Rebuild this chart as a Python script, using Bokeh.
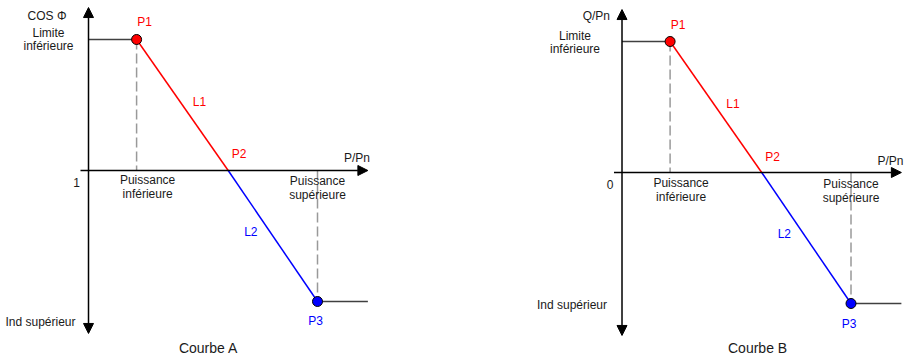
from bokeh.plotting import figure
from bokeh.layouts import row
from bokeh.models import Arrow, NormalHead
from bokeh.embed import file_html
from bokeh.resources import INLINE
from bokeh.core.properties import value

# ---------------- data ----------------
point_names = ["P1", "P2", "P3"]
segment_names = ["L1", "L2"]
p_pn = [0.21, 0.61, 1.0]            # P/Pn of P1, P2, P3
curve_a = [1.0, 0.0, -1.0]          # COS Φ (normalised): limite inférieure, 1, ind supérieur
curve_b = [1.0, 0.0, -1.0]          # Q/Pn (normalised): limite inférieure, 0, ind supérieur
titles = ["Courbe A", "Courbe B"]
y_axis_names = ["COS Φ", "Q/Pn"]
origin_labels = ["1", "0"]
x_axis_name = "P/Pn"
upper_label = "Limite\ninférieure"
lower_label = "Ind supérieur"
power_labels = ["Puissance\ninférieure", "Puissance\nsupérieure"]
axis_x_end = 1.22
axis_y_extent = 1.244

FONT = value("Liberation Sans")
RED = "#ff0000"
BLUE = "#0000ff"
TXT = "#1a1a1a"

panels = [
    dict(ys=curve_a, title=titles[0], yname=y_axis_names[0], origin=origin_labels[0],
         xr=(-0.3843, 1.5895), yr=(-1.4275, 1.2977),
         yname_off=(-22, 8), limit_off=-40, ind_off=(-13, 21), title_x=0.524),
    dict(ys=curve_b, title=titles[1], yname=y_axis_names[1], origin=origin_labels[1],
         xr=(-0.7402, 1.2336), yr=(-1.4122, 1.3130),
         yname_off=(-12, 6), limit_off=-47, ind_off=(-15, 1), title_x=0.592),
]


def txt(p, x, y, t, color=TXT, size="12px", align="center", baseline="middle", xo=0, yo=0):
    p.text(x=[x], y=[y], text=[t], text_color=color, text_font=FONT,
           text_font_size=size, text_align=align, text_baseline=baseline,
           x_offset=xo, y_offset=yo)


def make_panel(cfg):
    ys = cfg["ys"]
    p = figure(width=452, height=357, x_range=cfg["xr"], y_range=cfg["yr"],
               x_axis_type=None, y_axis_type=None, toolbar_location=None,
               output_backend="svg", min_border=0, outline_line_color=None,
               background_fill_color="white", border_fill_color="white")
    p.grid.visible = False

    # axes with arrows
    p.add_layout(Arrow(x_start=0, y_start=-axis_y_extent, x_end=0, y_end=axis_y_extent,
                       start=NormalHead(size=10, fill_color="black", line_color="black", line_width=1),
                       end=NormalHead(size=10, fill_color="black", line_color="black", line_width=1),
                       line_color="black", line_width=1.5))
    p.add_layout(Arrow(x_start=-0.035, y_start=0, x_end=axis_x_end, y_end=0,
                       end=NormalHead(size=10, fill_color="black", line_color="black", line_width=1),
                       line_color="black", line_width=1.5))

    # dashed guides
    p.line([p_pn[0], p_pn[0]], [ys[0], 0], line_color="#999999", line_width=1.5, line_dash="10 4")
    p.line([p_pn[2], p_pn[2]], [0, ys[2]], line_color="#999999", line_width=1.5, line_dash="10 4")

    # flat parts
    p.line([0, p_pn[0]], [ys[0], ys[0]], line_color="#404040", line_width=1.5)
    p.line([p_pn[2], axis_x_end], [ys[2], ys[2]], line_color="#404040", line_width=1.5)

    # sloped segments
    p.line(p_pn[0:2], ys[0:2], line_color=RED, line_width=1.5)
    p.line(p_pn[1:3], ys[1:3], line_color=BLUE, line_width=1.5)

    # points
    p.scatter([p_pn[0]], [ys[0]], size=10, fill_color=RED, line_color="black", line_width=1)
    p.scatter([p_pn[2]], [ys[2]], size=10, fill_color=BLUE, line_color="black", line_width=1)

    # point / segment labels
    txt(p, p_pn[0], ys[0], point_names[0], RED, xo=8, yo=-17)
    txt(p, p_pn[1], ys[1], point_names[1], RED, xo=11, yo=-16)
    txt(p, p_pn[2], ys[2], point_names[2], BLUE, xo=-2, yo=20)
    txt(p, (p_pn[0] + p_pn[1]) / 2, (ys[0] + ys[1]) / 2, segment_names[0], RED, xo=17, yo=-3)
    txt(p, (p_pn[1] + p_pn[2]) / 2, (ys[1] + ys[2]) / 2, segment_names[1], BLUE, xo=-22, yo=-4)

    # axis labels
    xo, yo = cfg["yname_off"]
    txt(p, 0, axis_y_extent, cfg["yname"], align="right", xo=xo, yo=yo)
    txt(p, axis_x_end, 0, x_axis_name, xo=-11, yo=-12)
    txt(p, 0, 0, cfg["origin"], xo=-12, yo=12)
    l1, l2 = upper_label.split("\n")
    txt(p, 0, ys[0], l1, xo=cfg["limit_off"], yo=-6)
    txt(p, 0, ys[0], l2, xo=cfg["limit_off"], yo=7)
    xo, yo = cfg["ind_off"]
    txt(p, 0, ys[2], lower_label, align="right", xo=xo, yo=yo)

    a1, a2 = power_labels[0].split("\n")
    txt(p, p_pn[0], 0, a1, xo=11, yo=10)
    txt(p, p_pn[0], 0, a2, xo=11, yo=24)
    b1, b2 = power_labels[1].split("\n")
    txt(p, p_pn[2], 0, b1, xo=0, yo=11)
    txt(p, p_pn[2], 0, b2, xo=0, yo=25)

    # caption
    txt(p, cfg["title_x"], cfg["yr"][0], cfg["title"], size="14px", baseline="middle", yo=-10)
    return p


layout = row(*[make_panel(c) for c in panels])
open("out.html", "w").write(file_html(layout, INLINE))
